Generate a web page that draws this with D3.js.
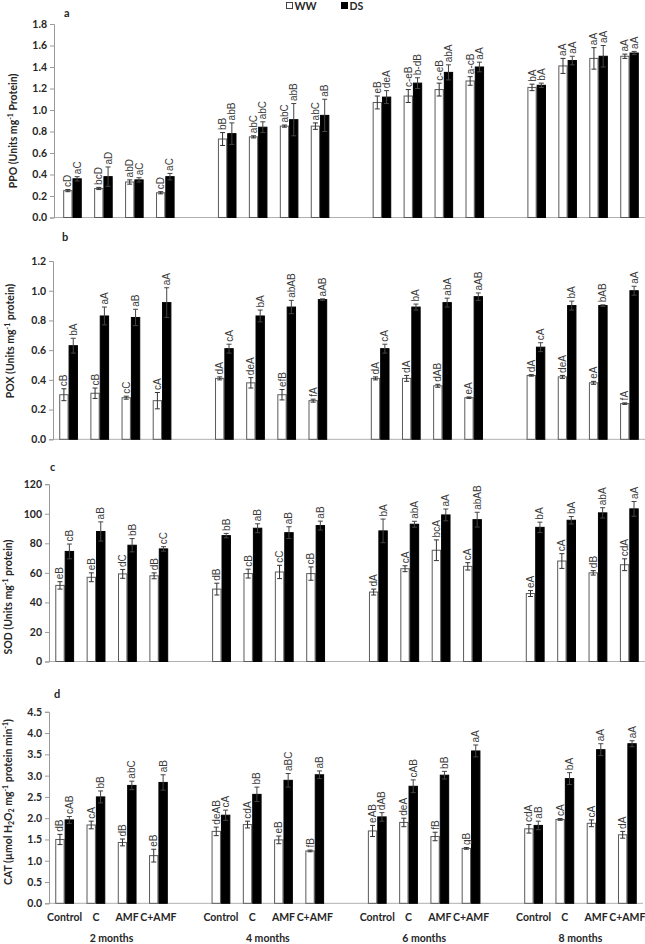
<!DOCTYPE html>
<html>
<head>
<meta charset="utf-8">
<script src="https://cdn.jsdelivr.net/npm/d3@7"></script>
<style>
  html, body { margin: 0; padding: 0; background: #fff; }
  svg { display: block; }
</style>
</head>
<body>
<svg id="chart" width="645" height="944"></svg>
<script>
// ---------------- DATA ----------------
const months = ["2 months", "4 months", "6 months", "8 months"];
const treatments = ["Control", "C", "AMF", "C+AMF"];
const series = ["WW", "DS"];

// PPO (panel a) – 16 values, month-major order
const ppoWW    = [0.25, 0.27, 0.33, 0.23,  0.73, 0.75, 0.85, 0.85,  1.07, 1.13, 1.19, 1.27,  1.21, 1.41, 1.48, 1.50];
const ppoWWErr = [0.01, 0.01, 0.02, 0.01,  0.06, 0.01, 0.01, 0.03,  0.06, 0.06, 0.06, 0.04,  0.03, 0.07, 0.10, 0.02];
const ppoDS    = [0.36, 0.38, 0.35, 0.38,  0.78, 0.84, 0.91, 0.95,  1.12, 1.25, 1.35, 1.40,  1.23, 1.46, 1.50, 1.53];
const ppoDSErr = [0.02, 0.09, 0.02, 0.03,  0.10, 0.05, 0.15, 0.15,  0.06, 0.05, 0.07, 0.045, 0.02, 0.04, 0.10, 0.015];
const ppoWWLet = ["cD", "bcD", "abD", "cD",  "bB", "abC", "abC", "abC",  "eB", "c-eB", "c-eB", "a-cB",  "bA", "aA", "aA", "aA"];
const ppoDSLet = ["aC", "aD", "aC", "aC",  "abB", "abC", "abB", "aB",  "deA", "b-dB", "abA", "aA",  "bA", "aA", "aA", "aA"];

// POX (panel b)
const poxWW    = [0.30, 0.31, 0.28, 0.26,  0.41, 0.38, 0.30, 0.26,  0.41, 0.41, 0.36, 0.28,  0.43, 0.42, 0.38, 0.24];
const poxWWErr = [0.04, 0.035, 0.01, 0.055, 0.01, 0.035, 0.035, 0.01, 0.01, 0.02, 0.01, 0.005, 0.005, 0.01, 0.01, 0.005];
const poxDS    = [0.63, 0.83, 0.82, 0.92,  0.61, 0.83, 0.89, 0.94,  0.61, 0.89, 0.92, 0.96,  0.62, 0.90, 0.90, 1.00];
const poxDSErr = [0.05, 0.06, 0.055, 0.10, 0.03, 0.04, 0.045, 0.005, 0.03, 0.02, 0.03, 0.025, 0.03, 0.03, 0.005, 0.03];
const poxWWLet = ["cB", "cB", "cC", "cA",  "dA", "deA", "efB", "fA",  "dA", "dA", "dAB", "eA",  "dA", "deA", "eA", "fA"];
const poxDSLet = ["bA", "aA", "aB", "aA",  "cA", "bA", "abAB", "aAB",  "cA", "bA", "abA", "aAB",  "cA", "bA", "bAB", "aA"];

// SOD (panel c)
const sodWW    = [51.5, 57.0, 59.3, 58.0,  49.0, 59.5, 60.6, 59.5,  47.0, 62.8, 75.3, 64.4,  46.0, 68.0, 60.0, 65.5];
const sodWWErr = [2.5, 3.0, 3.0, 2.0,  4.0, 3.0, 4.5, 4.5,  2.0, 2.0, 7.0, 2.5,  2.0, 5.0, 1.5, 4.0];
const sodDS    = [74.5, 88.0, 78.7, 76.2,  85.2, 90.2, 87.2, 92.0,  88.4, 92.9, 99.2, 96.0,  90.8, 95.6, 100.6, 103.3];
const sodDSErr = [5.0, 6.5, 4.5, 1.5,  1.5, 3.0, 4.0, 3.0,  8.0, 2.0, 4.0, 5.0,  3.5, 2.5, 3.5, 5.0];
const sodWWLet = ["eB", "eB", "dC", "dB",  "dB", "cB", "cC", "cB",  "dA", "cA", "bcA", "cA",  "eA", "cA", "dB", "cdA"];
const sodDSLet = ["cB", "aB", "bB", "cC",  "bB", "aB", "aB", "aB",  "bA", "abA", "aA", "abAB",  "bA", "bA", "abA", "aA"];

// CAT (panel d)
const catWW    = [1.50, 1.84, 1.43, 1.12,  1.69, 1.85, 1.49, 1.23,  1.70, 1.90, 1.57, 1.29,  1.75, 1.97, 1.88, 1.61];
const catWWErr = [0.12, 0.09, 0.08, 0.15,  0.10, 0.08, 0.09, 0.02,  0.13, 0.10, 0.10, 0.02,  0.10, 0.02, 0.08, 0.08];
const catDS    = [1.96, 2.50, 2.77, 2.84,  2.07, 2.56, 2.89, 3.02,  2.03, 2.75, 3.01, 3.58,  1.83, 2.93, 3.61, 3.75];
const catDSErr = [0.08, 0.14, 0.10, 0.18,  0.12, 0.17, 0.16, 0.09,  0.10, 0.15, 0.09, 0.14,  0.10, 0.14, 0.14, 0.07];
const catWWLet = ["dB", "cA", "dB", "eB",  "deAB", "cdA", "eB", "fB",  "eAB", "deA", "fB", "gB",  "cdA", "cA", "cA", "dA"];
const catDSLet = ["cAB", "bB", "abC", "aB",  "cA", "bB", "aBC", "aB",  "dAB", "cAB", "bB", "aA",  "aB", "bA", "aA", "aA"];

// Axis tick labels
const ppoTicks = [0.0, 0.2, 0.4, 0.6, 0.8, 1.0, 1.2, 1.4, 1.6, 1.8];
const poxTicks = [0.0, 0.2, 0.4, 0.6, 0.8, 1.0, 1.2];
const sodTicks = [0, 20, 40, 60, 80, 100, 120];
const catTicks = [0.0, 0.5, 1.0, 1.5, 2.0, 2.5, 3.0, 3.5, 4.0, 4.5];

// ---------------- DRAW ----------------
const svg = d3.select("#chart");
svg.append("rect").attr("width", 645).attr("height", 944).attr("fill", "#fff");

const BOLD = "Lato, 'Liberation Sans', Arial, sans-serif";
const LET = "'Liberation Sans', Arial, sans-serif";

const panels = [
  { letter: "a", ww: ppoWW, wwE: ppoWWErr, ds: ppoDS, dsE: ppoDSErr, wwL: ppoWWLet, dsL: ppoDSLet,
    ticks: ppoTicks, fmt: d3.format(".1f"),
    title: [["PPO (Units mg", 0], ["-1", 1], [" Protein)", 0]],
    top: 24, base: 217.5, axisX: 54, xr: [57, 645], titleX: 16.5, titleY: 131, letX: 64, letY: 17 },
  { letter: "b", ww: poxWW, wwE: poxWWErr, ds: poxDS, dsE: poxDSErr, wwL: poxWWLet, dsL: poxDSLet,
    ticks: poxTicks, fmt: d3.format(".1f"),
    title: [["POX (Units mg", 0], ["-1", 1], [" protein)", 0]],
    top: 261, base: 439.3, axisX: 53, xr: [53, 645], titleX: 14, titleY: 341, letX: 62, letY: 240.5 },
  { letter: "c", ww: sodWW, wwE: sodWWErr, ds: sodDS, dsE: sodDSErr, wwL: sodWWLet, dsL: sodDSLet,
    ticks: sodTicks, fmt: d3.format("d"),
    title: [["SOD (Units mg", 0], ["-1", 1], [" protein)", 0]],
    top: 484.2, base: 661.5, axisX: 49, xr: [49, 645], titleX: 11.5, titleY: 597, letX: 50, letY: 470.5 },
  { letter: "d", ww: catWW, wwE: catWWErr, ds: catDS, dsE: catDSErr, wwL: catWWLet, dsL: catDSLet,
    ticks: catTicks, fmt: d3.format(".1f"),
    title: [["CAT (µmol H", 0], ["2", -1], ["O", 0], ["2", -1], [" mg", 0], ["-1", 1], [" protein min", 0], ["-1", 1], [")", 0]],
    top: 711.8, base: 903.3, axisX: 49, xr: [49, 643], titleX: 11.5, titleY: 802, letX: 54, letY: 698 }
];

panels.forEach((p, pi) => {
  const g = svg.append("g");
  const y = d3.scaleLinear().domain([0, d3.max(p.ticks)]).range([p.base, p.top]);
  const xm = d3.scaleBand().domain(months).range(p.xr).paddingInner(0.2).paddingOuter(0);
  const xt = d3.scaleBand().domain(treatments).range([0, xm.bandwidth()]).paddingInner(0.4).paddingOuter(0.2);
  const xs = d3.scaleBand().domain(series).range([0, xt.bandwidth()]);

  // baseline
  g.append("line")
    .attr("x1", p.axisX).attr("x2", xm(months[3]) + xm.bandwidth())
    .attr("y1", p.base).attr("y2", p.base)
    .attr("stroke", "#b0b0b0").attr("stroke-width", 1);

  // y axis
  const ax = g.append("g").attr("transform", `translate(${p.axisX},0)`)
    .call(d3.axisLeft(y).tickValues(p.ticks).tickFormat(p.fmt).tickSize(4).tickPadding(3));
  ax.select(".domain").attr("stroke", "#9a9a9a");
  ax.selectAll(".tick line").attr("stroke", "#9a9a9a");
  ax.selectAll(".tick text").attr("fill", "#262626").style("font-family", BOLD)
    .style("font-weight", "bold").style("font-size", "10.5px");

  // panel letter
  g.append("text").attr("x", p.letX).attr("y", p.letY).text(p.letter)
    .style("font-family", BOLD).style("font-weight", "bold").style("font-size", "11px").attr("fill", "#262626");

  // y title
  const t = g.append("text")
    .attr("transform", `translate(${p.titleX},${p.titleY}) rotate(-90)`)
    .attr("text-anchor", "middle").attr("dy", "0.35em")
    .style("font-family", BOLD).style("font-weight", "bold").style("font-size", "10.5px").attr("fill", "#262626");
  let shift = 0;
  p.title.forEach(([s, k]) => {
    const target = k === 1 ? -4 : (k === -1 ? 2.5 : 0);
    t.append("tspan").attr("dy", target - shift).style("font-size", k === 0 ? "10.5px" : "7px").text(s);
    shift = target;
  });

  // bars
  const recs = [];
  months.forEach((m, mi) => treatments.forEach((tr, ti) => {
    const i = mi * 4 + ti;
    recs.push({ m, tr, s: "WW", v: p.ww[i], e: p.wwE[i], l: p.wwL[i] });
    recs.push({ m, tr, s: "DS", v: p.ds[i], e: p.dsE[i], l: p.dsL[i] });
  }));
  const bx = d => xm(d.m) + xt(d.tr) + xs(d.s);
  const bw = xs.bandwidth();

  g.selectAll("rect.bar").data(recs).join("rect").attr("class", "bar")
    .attr("x", d => bx(d) + 0.5).attr("width", bw - 1)
    .attr("y", d => y(d.v)).attr("height", d => p.base - y(d.v))
    .attr("fill", d => d.s === "WW" ? "#fff" : "#000")
    .attr("stroke", d => d.s === "WW" ? "#5a5a5a" : "#000").attr("stroke-width", 1);

  // error bars
  const eb = g.selectAll("g.eb").data(recs).join("g").attr("class", "eb")
    .attr("stroke", d => d.s === "WW" ? "#333" : "#444").attr("stroke-width", 1);
  eb.append("line").attr("x1", d => bx(d) + bw / 2).attr("x2", d => bx(d) + bw / 2)
    .attr("y1", d => y(d.v - d.e)).attr("y2", d => y(d.v + d.e));
  eb.append("line").attr("x1", d => bx(d) + bw / 2 - 2.5).attr("x2", d => bx(d) + bw / 2 + 2.5)
    .attr("y1", d => y(d.v + d.e)).attr("y2", d => y(d.v + d.e));
  eb.append("line").attr("x1", d => bx(d) + bw / 2 - 2.5).attr("x2", d => bx(d) + bw / 2 + 2.5)
    .attr("y1", d => y(d.v - d.e)).attr("y2", d => y(d.v - d.e));

  // letter labels
  g.selectAll("text.lab").data(recs).join("text").attr("class", "lab")
    .attr("transform", d => `translate(${bx(d) + bw / 2},${y(d.v + d.e) - 2.5}) rotate(-90)`)
    .attr("dy", "0.35em").attr("text-anchor", "start")
    .style("font-family", LET).style("font-size", "10px").attr("fill", "#3a3a3a")
    .text(d => d.l);

  // category labels on the last panel
  if (pi === 3) {
    months.forEach(m => {
      treatments.forEach(tr => {
        g.append("text").attr("x", xm(m) + xt(tr) + xt.bandwidth() / 2).attr("y", 921)
          .attr("text-anchor", "middle").text(tr)
          .style("font-family", BOLD).style("font-weight", "bold").style("font-size", "10.5px").attr("fill", "#262626");
      });
      g.append("text").attr("x", xm(m) + xm.bandwidth() / 2).attr("y", 942)
        .attr("text-anchor", "middle").text(m)
        .style("font-family", BOLD).style("font-weight", "bold").style("font-size", "10.5px").attr("fill", "#262626");
    });
  }
});

// legend
const leg = svg.append("g");
const legItems = [{ s: "WW", x: 286, fill: "#fff" }, { s: "DS", x: 341, fill: "#000" }];
legItems.forEach(it => {
  leg.append("rect").attr("x", it.x + 0.5).attr("y", 2.5).attr("width", 6).attr("height", 6)
    .attr("fill", it.fill).attr("stroke", it.fill === "#fff" ? "#444" : "#000");
  leg.append("text").attr("x", it.x + 8.5).attr("y", 9.5).text(it.s)
    .style("font-family", BOLD).style("font-weight", "bold").style("font-size", "10.5px").attr("fill", "#262626");
});
</script>
</body>
</html>
